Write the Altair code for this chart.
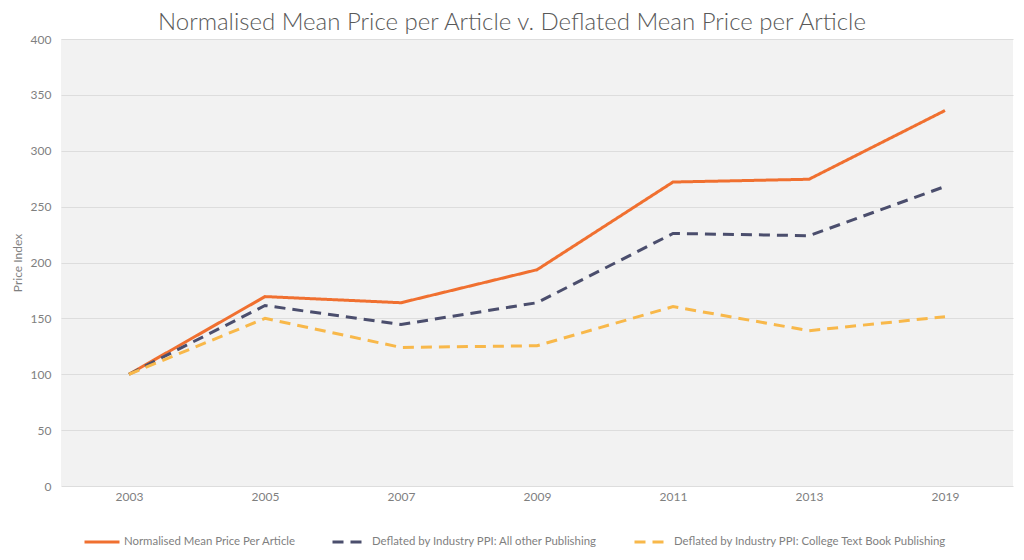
import altair as alt
import pandas as pd

years = ["2003", "2005", "2007", "2009", "2011", "2013", "2019"]
normalised = [100, 169.5, 164, 193.5, 272, 274.5, 336]
ppi_other = [100, 161.5, 144.5, 164, 226, 224, 268]
ppi_college = [100, 150, 124, 125.5, 160.5, 139, 151.5]

series_names = [
    "Normalised Mean Price Per Article",
    "Deflated by Industry PPI: All other Publishing",
    "Deflated by Industry PPI: College Text Book Publishing",
]
series_values = [normalised, ppi_other, ppi_college]
colors = ["#F07030", "#4B4E6D", "#F8B84A"]
dashes = [[1, 0], [11, 7], [11, 7]]

rows = []
for name, vals in zip(series_names, series_values):
    for y, v in zip(years, vals):
        rows.append({"Year": y, "Value": v, "Series": name})
df = pd.DataFrame(rows)

FONT = "Lato"

chart = (
    alt.Chart(df)
    .mark_line(strokeWidth=3)
    .encode(
        x=alt.X(
            "Year:O",
            sort=years,
            scale=alt.Scale(type="point", padding=0.5),
            axis=alt.Axis(title=None, labelAngle=0, grid=False, domain=False,
                          ticks=False, labelPadding=5),
        ),
        y=alt.Y(
            "Value:Q",
            scale=alt.Scale(domain=[0, 400]),
            axis=alt.Axis(title="Price Index", values=list(range(0, 401, 50)),
                          domain=False, ticks=False, labelPadding=10,
                          titlePadding=6, gridColor="#DDDDDD"),
        ),
        color=alt.Color(
            "Series:N",
            sort=series_names,
            scale=alt.Scale(domain=series_names, range=colors),
            legend=alt.Legend(
                title=None, orient="none", direction="horizontal",
                legendX=22, legendY=484, symbolType="stroke",
                symbolSize=1225, symbolStrokeWidth=3, columnPadding=30,
                labelOffset=3,
            ),
        ),
        strokeDash=alt.StrokeDash(
            "Series:N",
            sort=series_names,
            scale=alt.Scale(domain=series_names, range=dashes),
            legend=None,
        ),
    )
    .properties(
        width=952,
        height=447,
        autosize=alt.AutoSizeParams(type="none"),
        padding={"left": 53, "top": 31, "right": 3, "bottom": 66},
        title=alt.TitleParams(
            "Normalised Mean Price per Article v. Deflated Mean Price per Article",
            fontSize=24, font=FONT, fontWeight=300, color="#595959",
            anchor="middle", dx=-25, dy=10, offset=8,
        ),
    )
    .configure_view(fill="#F2F2F2", stroke=None)
    .configure_axis(labelFont=FONT, titleFont=FONT, labelFontSize=12,
                    titleFontSize=12, labelColor="#7F7F7F",
                    titleColor="#7F7F7F", titleFontWeight="normal")
    .configure_legend(labelFont=FONT, labelFontSize=11.4, labelColor="#7F7F7F",
                      labelLimit=400)
)

chart.save("out.html", embed_options={"renderer": "svg", "actions": False})
